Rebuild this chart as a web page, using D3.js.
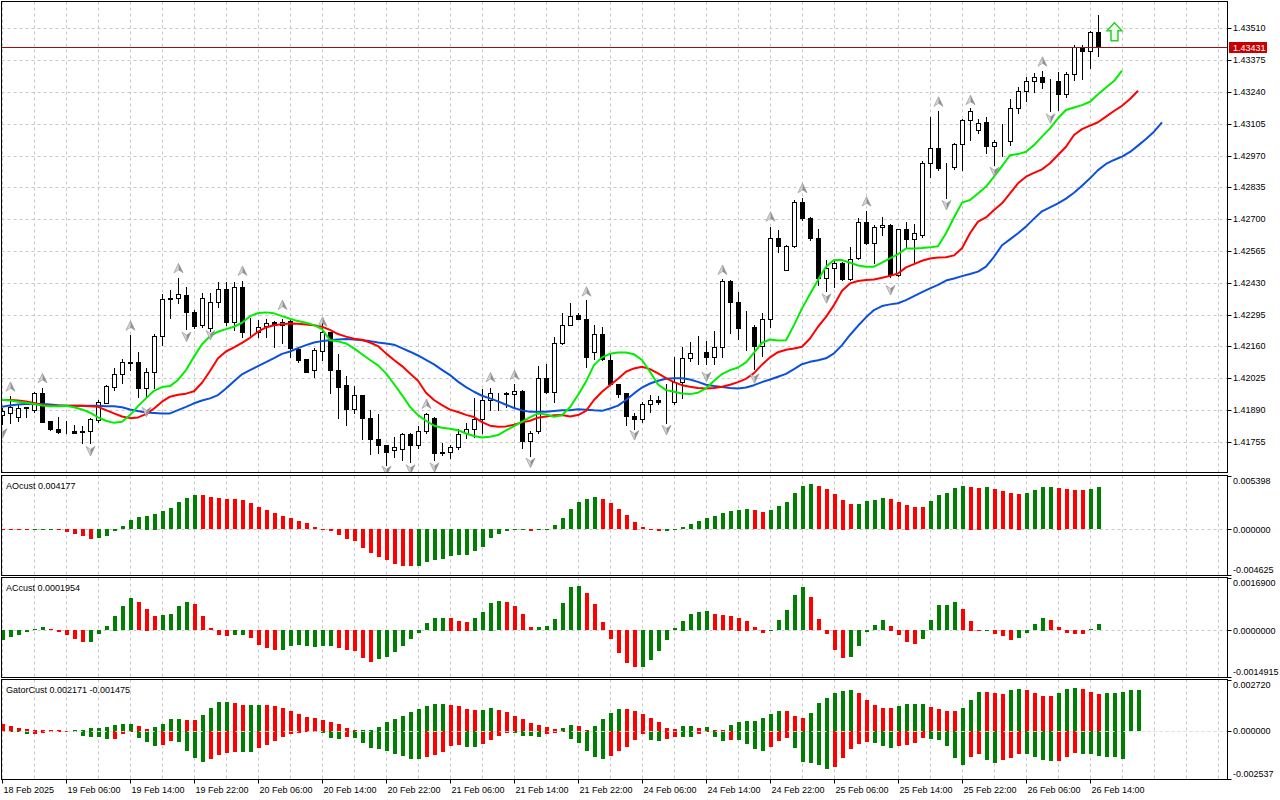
<!DOCTYPE html>
<html>
<head>
<meta charset="utf-8">
<script src="https://cdn.jsdelivr.net/npm/d3@7"></script>
<style>
    html, body { margin: 0; padding: 0; background: #fff; }
    svg text { font-family: "Liberation Sans", Arial, sans-serif; font-size: 9px; fill: #000; }
</style>
</head>
<body>
<svg id="chart" width="1280" height="800"></svg>
<script>
// Data (bar 0 = 18 Feb 22:00, H1 bars)
const timeTicks = [[0, "18 Feb 2025"], [8, "19 Feb 06:00"], [16, "19 Feb 14:00"], [24, "19 Feb 22:00"],
    [32, "20 Feb 06:00"], [40, "20 Feb 14:00"], [48, "20 Feb 22:00"], [56, "21 Feb 06:00"],
    [64, "21 Feb 14:00"], [72, "21 Feb 22:00"], [80, "24 Feb 06:00"], [88, "24 Feb 14:00"],
    [96, "24 Feb 22:00"], [104, "25 Feb 06:00"], [112, "25 Feb 14:00"], [120, "25 Feb 22:00"],
    [128, "26 Feb 06:00"], [136, "26 Feb 14:00"]];

const priceTicks = [1.43510, 1.43375, 1.43240, 1.43105, 1.42970, 1.42835, 1.42700,
    1.42565, 1.42430, 1.42295, 1.42160, 1.42025, 1.41890, 1.41755];

const open = [1.41868,1.41875,1.41861,1.41896,1.41889,1.41960,1.41843,1.41811,1.41798,1.41800,
1.41797,1.41802,1.41847,1.41920,1.41988,1.42041,1.42090,1.42092,1.41984,1.42052,
1.42205,1.42362,1.42364,1.42378,1.42304,1.42250,1.42236,1.42347,1.42403,1.42264,
1.42410,1.42220,1.42219,1.42246,1.42264,1.42250,1.42267,1.42147,1.42106,1.42059,
1.42141,1.42222,1.42059,1.41995,1.41892,1.41953,1.41854,1.41765,1.41741,1.41719,
1.41722,1.41787,1.41741,1.41802,1.41854,1.41710,1.41710,1.41731,1.41790,1.41811,
1.41850,1.41932,1.41960,1.41963,1.41956,1.41970,1.41759,1.41802,1.42024,1.41964,
1.42172,1.42250,1.42293,1.42278,1.42134,1.42212,1.42102,1.41998,1.41963,1.41864,
1.41850,1.41915,1.41932,1.41927,1.41922,1.42007,1.42109,1.42134,1.42137,1.42116,
1.42155,1.42437,1.42346,1.42240,1.42243,1.42162,1.42278,1.42621,1.42486,1.42587,
1.42774,1.42703,1.42621,1.42452,1.42491,1.42515,1.42444,1.42533,1.42686,1.42597,
1.42665,1.42675,1.42462,1.42656,1.42614,1.42632,1.42937,1.43000,1.42922,1.42920,
1.43019,1.43121,1.43078,1.43114,1.43010,1.43032,1.43033,1.43170,1.43245,1.43286,
1.43302,1.43286,1.43286,1.43231,1.43316,1.43429,1.43415,1.43493];

const high = [1.41896,1.41949,1.41915,1.41903,1.41967,1.41984,1.41845,1.41858,1.41844,1.41826,
1.41823,1.41854,1.41932,1.41995,1.42069,1.42106,1.42208,1.42137,1.42066,1.42211,
1.42381,1.42399,1.42451,1.42413,1.42314,1.42385,1.42385,1.42434,1.42434,1.42431,
1.42437,1.42279,1.42272,1.42274,1.42267,1.42278,1.42271,1.42151,1.42106,1.42151,
1.42257,1.42222,1.42126,1.42034,1.41991,1.41955,1.41889,1.41872,1.41741,1.41773,
1.41790,1.41790,1.41821,1.41875,1.41858,1.41751,1.41741,1.41811,1.41835,1.41939,
1.41977,1.41985,1.41963,1.41967,1.42000,1.41974,1.41800,1.42077,1.42083,1.42201,
1.42300,1.42342,1.42300,1.42356,1.42250,1.42243,1.42130,1.41998,1.41963,1.41878,
1.41925,1.41953,1.41949,1.42002,1.42116,1.42155,1.42179,1.42203,1.42184,1.42225,
1.42444,1.42440,1.42389,1.42309,1.42250,1.42300,1.42667,1.42653,1.42590,1.42783,
1.42788,1.42707,1.42656,1.42526,1.42529,1.42518,1.42583,1.42703,1.42735,1.42675,
1.42710,1.42678,1.42660,1.42689,1.42679,1.42947,1.43132,1.43160,1.42937,1.43022,
1.43125,1.43170,1.43125,1.43135,1.43036,1.43104,1.43208,1.43259,1.43302,1.43319,
1.43329,1.43293,1.43326,1.43326,1.43439,1.43439,1.43500,1.43566];

const low = [1.41830,1.41833,1.41844,1.41858,1.41882,1.41837,1.41804,1.41790,1.41793,1.41790,
1.41751,1.41748,1.41840,1.41918,1.41974,1.42006,1.42059,1.41946,1.41939,1.41981,
1.42165,1.42279,1.42342,1.42233,1.42239,1.42243,1.42225,1.42328,1.42250,1.42229,
1.42201,1.42198,1.42198,1.42201,1.42155,1.42172,1.42116,1.42094,1.42049,1.42028,
1.42102,1.41960,1.41854,1.41828,1.41878,1.41765,1.41701,1.41708,1.41656,1.41688,
1.41677,1.41670,1.41727,1.41790,1.41677,1.41698,1.41684,1.41722,1.41769,1.41776,
1.41793,1.41889,1.41889,1.41903,1.41903,1.41727,1.41694,1.41793,1.41963,1.41925,
1.42169,1.42250,1.42274,1.42073,1.42104,1.42102,1.41995,1.41946,1.41826,1.41811,
1.41840,1.41882,1.41917,1.41833,1.41917,1.41942,1.42099,1.42084,1.42084,1.42084,
1.42116,1.42215,1.42193,1.42144,1.42062,1.42120,1.42243,1.42559,1.42483,1.42583,
1.42696,1.42611,1.42420,1.42396,1.42413,1.42441,1.42441,1.42529,1.42594,1.42512,
1.42632,1.42455,1.42458,1.42576,1.42512,1.42625,1.42877,1.42908,1.42791,1.42911,
1.42908,1.43036,1.43067,1.42982,1.42930,1.42968,1.43014,1.43149,1.43203,1.43241,
1.43258,1.43160,1.43163,1.43220,1.43290,1.43295,1.43343,1.43392];

const close = [1.41886,1.41903,1.41896,1.41901,1.41960,1.41840,1.41807,1.41797,1.41798,1.41793,
1.41799,1.41850,1.41925,1.41991,1.42041,1.42092,1.42092,1.41981,1.42052,1.42205,
1.42361,1.42364,1.42380,1.42304,1.42248,1.42364,1.42347,1.42403,1.42264,1.42410,
1.42222,1.42221,1.42243,1.42257,1.42250,1.42264,1.42151,1.42102,1.42052,1.42144,
1.42222,1.42059,1.41988,1.41892,1.41953,1.41854,1.41765,1.41741,1.41712,1.41731,
1.41787,1.41743,1.41800,1.41872,1.41705,1.41705,1.41731,1.41787,1.41811,1.41850,
1.41932,1.41960,1.41961,1.41957,1.41970,1.41759,1.41794,1.42024,1.41964,1.42172,
1.42250,1.42288,1.42278,1.42116,1.42212,1.42104,1.41998,1.41956,1.41864,1.41850,
1.41915,1.41934,1.41922,1.41926,1.42007,1.42109,1.42133,1.42135,1.42116,1.42155,
1.42437,1.42349,1.42239,1.42241,1.42162,1.42278,1.42621,1.42585,1.42587,1.42774,
1.42703,1.42618,1.42452,1.42491,1.42515,1.42444,1.42529,1.42686,1.42597,1.42665,
1.42675,1.42462,1.42656,1.42614,1.42640,1.42939,1.43000,1.42918,1.42923,1.43019,
1.43121,1.43159,1.43109,1.43012,1.43029,1.43033,1.43170,1.43245,1.43286,1.43302,
1.43280,1.43285,1.43231,1.43316,1.43429,1.43415,1.43493,1.43431];

// Alligator lines (already shifted: lips +3, teeth +5, jaw +8 bars)
const lips = [1.41933,1.41930,1.41925,1.41920,1.41915,1.41909,1.41906,1.41906,1.41908,1.41901,
1.41892,1.41878,1.41858,1.41844,1.41835,1.41840,1.41868,1.41906,1.41939,1.41971,
1.41987,1.41991,1.42017,1.42059,1.42116,1.42169,1.42203,1.42222,1.42233,1.42243,
1.42260,1.42288,1.42301,1.42304,1.42300,1.42288,1.42277,1.42267,1.42260,1.42250,
1.42233,1.42186,1.42181,1.42172,1.42151,1.42126,1.42102,1.42079,1.42045,1.42000,
1.41953,1.41903,1.41868,1.41844,1.41823,1.41814,1.41810,1.41804,1.41790,1.41779,
1.41773,1.41776,1.41783,1.41803,1.41821,1.41840,1.41858,1.41875,1.41871,1.41861,
1.41867,1.41901,1.41953,1.42010,1.42080,1.42113,1.42128,1.42134,1.42134,1.42126,
1.42102,1.42052,1.41998,1.41974,1.41967,1.41960,1.41957,1.41963,1.41981,1.42014,
1.42042,1.42059,1.42070,1.42092,1.42133,1.42175,1.42189,1.42185,1.42186,1.42250,
1.42321,1.42382,1.42441,1.42498,1.42526,1.42526,1.42515,1.42503,1.42498,1.42498,
1.42515,1.42533,1.42551,1.42575,1.42575,1.42577,1.42580,1.42585,1.42640,1.42707,
1.42770,1.42781,1.42809,1.42838,1.42880,1.42925,1.42971,1.42976,1.42986,1.43014,
1.43050,1.43085,1.43128,1.43163,1.43174,1.43184,1.43198,1.43230,1.43259,1.43286,1.43330];

const teeth = [1.41932,1.41932,1.41930,1.41926,1.41919,1.41912,1.41908,1.41908,1.41908,1.41908,
1.41908,1.41906,1.41903,1.41889,1.41875,1.41862,1.41855,1.41858,1.41872,1.41896,
1.41925,1.41946,1.41954,1.41959,1.41969,1.42005,1.42055,1.42109,1.42138,1.42155,
1.42175,1.42196,1.42222,1.42240,1.42249,1.42254,1.42257,1.42256,1.42253,1.42249,
1.42243,1.42230,1.42212,1.42201,1.42192,1.42188,1.42176,1.42161,1.42130,1.42102,
1.42076,1.42045,1.42014,1.41963,1.41932,1.41910,1.41891,1.41881,1.41869,1.41860,
1.41838,1.41823,1.41818,1.41820,1.41827,1.41837,1.41844,1.41857,1.41862,1.41867,
1.41868,1.41862,1.41868,1.41886,1.41932,1.41967,1.41995,1.42022,1.42052,1.42066,
1.42073,1.42063,1.42045,1.42025,1.42008,1.41995,1.41988,1.41983,1.41981,1.41983,
1.41988,1.41997,1.42008,1.42022,1.42046,1.42082,1.42113,1.42135,1.42145,1.42151,
1.42158,1.42193,1.42243,1.42285,1.42335,1.42396,1.42427,1.42437,1.42441,1.42444,
1.42451,1.42459,1.42469,1.42495,1.42509,1.42523,1.42533,1.42537,1.42538,1.42546,
1.42576,1.42640,1.42689,1.42707,1.42739,1.42767,1.42809,1.42852,1.42880,1.42896,
1.42911,1.42937,1.42972,1.43007,1.43057,1.43082,1.43097,1.43111,1.43135,1.43159,
1.43181,1.43210,1.43245];

const jaw = [1.41903,1.41909,1.41913,1.41915,1.41915,1.41915,1.41913,1.41910,1.41908,1.41908,
1.41908,1.41908,1.41908,1.41906,1.41905,1.41901,1.41892,1.41885,1.41879,1.41877,
1.41875,1.41875,1.41889,1.41903,1.41918,1.41930,1.41939,1.41953,1.41981,1.42012,
1.42041,1.42059,1.42076,1.42093,1.42110,1.42128,1.42138,1.42152,1.42165,1.42176,
1.42182,1.42186,1.42189,1.42191,1.42189,1.42186,1.42182,1.42176,1.42172,1.42167,
1.42152,1.42137,1.42121,1.42102,1.42083,1.42060,1.42038,1.42010,1.41987,1.41967,
1.41950,1.41939,1.41926,1.41912,1.41898,1.41888,1.41882,1.41882,1.41882,1.41885,
1.41888,1.41889,1.41893,1.41891,1.41888,1.41886,1.41896,1.41908,1.41932,1.41960,
1.41985,1.42002,1.42014,1.42022,1.42024,1.42024,1.42019,1.42009,1.41997,1.41991,
1.41987,1.41983,1.41981,1.41985,1.41995,1.42008,1.42019,1.42031,1.42043,1.42063,
1.42084,1.42094,1.42101,1.42109,1.42130,1.42165,1.42208,1.42247,1.42283,1.42314,
1.42331,1.42338,1.42343,1.42356,1.42373,1.42390,1.42406,1.42421,1.42439,1.42448,
1.42458,1.42467,1.42477,1.42498,1.42540,1.42589,1.42614,1.42640,1.42668,1.42702,
1.42733,1.42750,1.42767,1.42787,1.42812,1.42842,1.42873,1.42908,1.42934,1.42951,
1.42965,1.42985,1.43012,1.43040,1.43071,1.43111];

// Fractal arrows: [bar, price where the arrow sits]
const fractalUp = [[1,1.41988],[5,1.42024],[16,1.42247],[22,1.42491],[30,1.42480],[35,1.42335],
    [40,1.42264],[53,1.41915],[61,1.42028],[64,1.42038],[73,1.42392],[90,1.42484],[96,1.42710],
    [100,1.42831],[108,1.42774],[117,1.43198],[121,1.43205],[130,1.43368]];
const fractalDown = [[0,1.41791],[11,1.41716],[18,1.41882],[23,1.42201],[26,1.42208],[48,1.41632],
    [51,1.41638],[54,1.41646],[66,1.41666],[79,1.41783],[83,1.41805],[88,1.42031],[94,1.42024],
    [103,1.42364],[111,1.42399],[118,1.42760],[124,1.42901],[131,1.43128]];
const signalArrow = { bar: 139, price: 1.43534 };

// AO histogram
const aoValues = [-33e-6,-66e-6,-99e-6,-100e-6,-33e-6,-17e-6,10e-6,-99e-6,-331e-6,-496e-6,
-728e-6,-959e-6,-860e-6,-662e-6,-232e-6,331e-6,926e-6,1224e-6,1356e-6,1555e-6,
1819e-6,2117e-6,2713e-6,3110e-6,3407e-6,3374e-6,3209e-6,3110e-6,3010e-6,3005e-6,
2878e-6,2613e-6,2216e-6,1886e-6,1588e-6,1323e-6,1092e-6,827e-6,595e-6,232e-6,
33e-6,-165e-6,-562e-6,-959e-6,-1224e-6,-1852e-6,-2415e-6,-2779e-6,-3110e-6,-3440e-6,
-3639e-6,-3672e-6,-3630e-6,-3308e-6,-3110e-6,-2977e-6,-2713e-6,-2613e-6,-2547e-6,-2216e-6,
-1819e-6,-893e-6,-463e-6,-232e-6,-66e-6,-17e-6,-232e-6,-33e-6,66e-6,430e-6,
1092e-6,2018e-6,2713e-6,3010e-6,3176e-6,2977e-6,2580e-6,1985e-6,1422e-6,761e-6,
198e-6,-33e-6,-232e-6,-198e-6,33e-6,198e-6,529e-6,827e-6,1092e-6,1323e-6,
1621e-6,1819e-6,1919e-6,2018e-6,1886e-6,1720e-6,1919e-6,2316e-6,2713e-6,3606e-6,
4300e-6,4466e-6,4300e-6,4003e-6,3506e-6,2944e-6,2514e-6,2520e-6,2812e-6,2911e-6,
3110e-6,3043e-6,2713e-6,2448e-6,2216e-6,2183e-6,2812e-6,3407e-6,3573e-6,4102e-6,
4300e-6,4234e-6,4135e-6,4201e-6,3970e-6,3804e-6,3606e-6,3540e-6,3573e-6,3903e-6,
4168e-6,4201e-6,4135e-6,4003e-6,3903e-6,3870e-6,4003e-6,4177e-6];
const aoColors = "rrrrgggrrr" + "rrgggggggg" + "gggggrrrrr" + "rrrrrrrrrr" + "rrrrrrrrrr" +
    "rrgggggggg" + "ggggggrggg" + "gggggrrrrr" + "rrrggggggg" + "ggggrrgggg" +
    "ggrrrrrggg" + "grrrrrgggg" + "grrgrrrrgg" + "ggrrrrgg";
const aoTicks = [0.005398, 0, -0.004625];
const aoTickLabels = ["0.005398", "0.000000", "-0.004625"];

// AC histogram
const acValues = [-327e-6,-232e-6,-169e-6,-74e-6,32e-6,106e-6,32e-6,-63e-6,-158e-6,-295e-6,
-390e-6,-369e-6,-137e-6,137e-6,464e-6,770e-6,1023e-6,897e-6,686e-6,454e-6,
485e-6,517e-6,770e-6,897e-6,833e-6,454e-6,74e-6,-169e-6,-179e-6,-169e-6,
-165e-6,-253e-6,-485e-6,-580e-6,-644e-6,-622e-6,-506e-6,-485e-6,-517e-6,-528e-6,
-517e-6,-515e-6,-559e-6,-622e-6,-654e-6,-886e-6,-1023e-6,-918e-6,-844e-6,-707e-6,
-506e-6,-295e-6,-106e-6,222e-6,401e-6,405e-6,400e-6,306e-6,274e-6,401e-6,
580e-6,876e-6,928e-6,897e-6,770e-6,517e-6,95e-6,106e-6,137e-6,359e-6,
865e-6,1361e-6,1403e-6,1171e-6,833e-6,264e-6,-295e-6,-739e-6,-1044e-6,-1182e-6,
-1171e-6,-939e-6,-654e-6,-327e-6,74e-6,306e-6,517e-6,580e-6,612e-6,517e-6,
485e-6,454e-6,401e-6,306e-6,106e-6,-106e-6,11e-6,327e-6,644e-6,1118e-6,
1372e-6,1055e-6,359e-6,-137e-6,-644e-6,-897e-6,-865e-6,-517e-6,-63e-6,169e-6,
327e-6,148e-6,-169e-6,-390e-6,-443e-6,-295e-6,327e-6,802e-6,805e-6,897e-6,
675e-6,306e-6,-11e-6,5e-6,-137e-6,-200e-6,-327e-6,-253e-6,-106e-6,200e-6,
401e-6,327e-6,106e-6,-106e-6,-127e-6,-137e-6,32e-6,195.4e-6];
const acColors = "ggggggrrrr" + "rggggggrrr" + "ggggrrrrrg" + "grrrrggggg" + "ggrrrrrggg" +
    "ggggggrrrg" + "gggrrrrggg" + "gggrrrrrrr" + "gggggggggr" + "rrrrrrgggg" +
    "grrrrrgggg" + "grrrrggggg" + "rrrgrrrggg" + "grrrrrgg";
const acTicks = [0.00169, 0, -0.0014915];
const acTickLabels = ["0.0016900", "0.0000000", "-0.0014915"];

// Gator oscillator (upper runs 5 bars ahead, lower 3 bars ahead)
const gatorUp = [350e-6,263e-6,175e-6,105e-6,70e-6,53e-6,44e-6,35e-6,18e-6,35e-6,
53e-6,140e-6,175e-6,193e-6,315e-6,368e-6,370e-6,263e-6,105e-6,210e-6,
368e-6,631e-6,635e-6,578e-6,575e-6,858e-6,1209e-6,1524e-6,1530e-6,1454e-6,
1367e-6,1370e-6,1372e-6,1349e-6,1332e-6,1209e-6,1051e-6,894e-6,736e-6,701e-6,
578e-6,473e-6,385e-6,158e-6,53e-6,35e-6,53e-6,210e-6,473e-6,631e-6,
788e-6,999e-6,1139e-6,1314e-6,1419e-6,1425e-6,1367e-6,1314e-6,1156e-6,1104e-6,
1110e-6,1209e-6,1104e-6,999e-6,788e-6,631e-6,420e-6,315e-6,210e-6,105e-6,
158e-6,315e-6,263e-6,53e-6,263e-6,631e-6,946e-6,1156e-6,1150e-6,1051e-6,
894e-6,683e-6,473e-6,158e-6,105e-6,263e-6,265e-6,158e-6,210e-6,53e-6,
50e-6,315e-6,473e-6,526e-6,530e-6,683e-6,894e-6,1069e-6,1051e-6,806e-6,
701e-6,964e-6,1472e-6,1734e-6,2015e-6,2120e-6,2155e-6,1997e-6,1629e-6,1367e-6,
1209e-6,1191e-6,1314e-6,1419e-6,1425e-6,1437e-6,1261e-6,1156e-6,1051e-6,1034e-6,
1209e-6,1647e-6,2050e-6,2045e-6,2032e-6,1945e-6,2155e-6,2208e-6,2172e-6,1997e-6,
1840e-6,1835e-6,1997e-6,2225e-6,2260e-6,2243e-6,2050e-6,1945e-6,1997e-6,2015e-6,
2067e-6,2155e-6,2171e-6];
const gatorUpColors = "rrrrrrrrrg" + "gggggggrrg" + "gggrrggggr" + "rggrrrrrrr" + "rrrrrggggg" +
    "ggggggrrrr" + "ggrrrrrrrr" + "ggrrggggrr" + "rrrrrggrgr" + "rgggggggrr" +
    "rggggggrrr" + "rrggggrrrr" + "gggrrrggrr" + "rrgggrrrgg" + "ggg";
const gatorDown = [-35e-6,-53e-6,-70e-6,-175e-6,-140e-6,-105e-6,-70e-6,-35e-6,-18e-6,-70e-6,
-245e-6,-298e-6,-300e-6,-420e-6,-415e-6,-140e-6,-35e-6,-350e-6,-578e-6,-771e-6,
-718e-6,-526e-6,-578e-6,-1034e-6,-1402e-6,-1612e-6,-1454e-6,-1244e-6,-1139e-6,-1086e-6,
-1104e-6,-1110e-6,-876e-6,-736e-6,-508e-6,-315e-6,-175e-6,-88e-6,-35e-6,-18e-6,
-123e-6,-385e-6,-403e-6,-298e-6,-350e-6,-613e-6,-876e-6,-929e-6,-1034e-6,-1226e-6,
-1314e-6,-1454e-6,-1460e-6,-1349e-6,-1244e-6,-1086e-6,-771e-6,-718e-6,-823e-6,-830e-6,
-666e-6,-456e-6,-245e-6,-88e-6,-95e-6,-245e-6,-250e-6,-298e-6,-140e-6,-88e-6,
-35e-6,-403e-6,-613e-6,-1034e-6,-1349e-6,-1454e-6,-1296e-6,-1034e-6,-823e-6,-456e-6,
-140e-6,-456e-6,-508e-6,-403e-6,-298e-6,-300e-6,-305e-6,-158e-6,-35e-6,-298e-6,
-508e-6,-473e-6,-480e-6,-701e-6,-964e-6,-1051e-6,-823e-6,-508e-6,-385e-6,-911e-6,
-1647e-6,-1682e-6,-1822e-6,-2032e-6,-1892e-6,-1437e-6,-929e-6,-666e-6,-596e-6,-631e-6,
-771e-6,-876e-6,-771e-6,-753e-6,-648e-6,-385e-6,-438e-6,-491e-6,-771e-6,-1437e-6,
-1822e-6,-1349e-6,-1226e-6,-1524e-6,-1699e-6,-1507e-6,-1402e-6,-1191e-6,-1195e-6,-1367e-6,
-1507e-6,-1577e-6,-1570e-6,-1349e-6,-1139e-6,-1209e-6,-1226e-6,-1296e-6,-1349e-6,-1352e-6,-1475e-6];
const gatorDownColors = "ggggrrrrrg" + "ggggrrrggg" + "rrggggrrrr" + "ggrrrrrrrr" + "gggrgggggg" +
    "gggrrrrrgg" + "rrrrggggrr" + "rgggggrrrr" + "rggrrggrrg" + "grggggrrrg" +
    "ggggrrrrrg" + "ggrrrrgggg" + "grrggrrrgg" + "ggrrrgggggg";
const gatorTicks = [0.00272, 0, -0.002537];
const gatorTickLabels = ["0.002720", "0.000000", "-0.002537"];

// Layout
const plotLeft = 1.5, plotRight = 1227.5, axisTextX = 1233;
const panels = {
    main: { top: 1.5, bottom: 472.5 },
    ao: { top: 475.5, bottom: 575.5 },
    ac: { top: 577.5, bottom: 677.5 },
    gator: { top: 679.5, bottom: 779.5 }
};
const gridColor = "#c8c8c8";
const bull = "#008000", bear = "#ff0000";

const svg = d3.select("#chart");
svg.append("rect").attr("width", 1280).attr("height", 800).attr("fill", "#fff");

// Scales
const x = d3.scaleLinear().domain([0, 1]).range([2, 10]);   // one bar = 8px
const yMain = d3.scaleLinear().domain([1.43510, 1.41755]).range([28.3, 441.7]);
const yAO = d3.scaleLinear().domain([aoTicks[0], aoTicks[2]]).range([475, 576]);
const yAC = d3.scaleLinear().domain([acTicks[0], acTicks[2]]).range([577, 677.5]);
const yGator = d3.scaleLinear().domain([gatorTicks[0], gatorTicks[2]]).range([679.5, 779]);

const gridBars = d3.range(0, 153, 4);
const px = v => Math.round(v) + 0.5;

// Vertical dashed grid in every panel
Object.values(panels).forEach(p => {
    svg.append("g").selectAll("line").data(gridBars).join("line")
        .attr("x1", d => px(x(d))).attr("x2", d => px(x(d)))
        .attr("y1", p.top).attr("y2", p.bottom)
        .attr("stroke", gridColor).attr("stroke-dasharray", "3,3");
});

// Main chart horizontal grid
svg.append("g").selectAll("line").data(priceTicks).join("line")
    .attr("x1", plotLeft).attr("x2", plotRight)
    .attr("y1", d => px(yMain(d))).attr("y2", d => px(yMain(d)))
    .attr("stroke", gridColor).attr("stroke-dasharray", "3,3");

// Clip for the main chart
svg.append("clipPath").attr("id", "mainClip").append("rect")
    .attr("x", 2).attr("y", 2).attr("width", 1225).attr("height", 470);
const main = svg.append("g").attr("clip-path", "url(#mainClip)");

// Candles
const candles = main.append("g");
d3.range(open.length).forEach(i => {
    const cx = Math.round(x(i));
    candles.append("line")
        .attr("x1", cx + 0.5).attr("x2", cx + 0.5)
        .attr("y1", Math.round(yMain(high[i]))).attr("y2", Math.round(yMain(low[i])) + 1)
        .attr("stroke", "#000");
    const top = Math.round(yMain(Math.max(open[i], close[i])));
    const bot = Math.round(yMain(Math.min(open[i], close[i])));
    candles.append("rect")
        .attr("x", cx - 1.5).attr("y", top + 0.5)
        .attr("width", 4).attr("height", Math.max(0, bot - top))
        .attr("fill", close[i] >= open[i] ? "#fff" : "#000")
        .attr("stroke", "#000");
});

// Alligator
const line = d3.line().x((d, i) => x(i)).y(d => yMain(d));
[[jaw, "#0a50dc"], [teeth, "#ff0000"], [lips, "#00ee00"]].forEach(([vals, col]) => {
    main.append("path").datum(vals).attr("d", line)
        .attr("fill", "none").attr("stroke", col).attr("stroke-width", 2)
        .attr("stroke-linejoin", "round");
});

// Current price line
const last = close[close.length - 1];
main.append("line")
    .attr("x1", plotLeft).attr("x2", plotRight)
    .attr("y1", px(yMain(last))).attr("y2", px(yMain(last)))
    .attr("stroke", "#a01010");

// Fractal arrows
function fractal(g, bar, price, up) {
    const a = g.append("g")
        .attr("transform", `translate(${x(bar) + 0.5},${yMain(price)}) scale(1,${up ? 1 : -1})`);
    a.append("path").attr("d", "M0,-5 L-4.5,4.5 L0,1.5 Z").attr("fill", "#d6d6d6");
    a.append("path").attr("d", "M0,-5 L0,1.5 L4.5,4.5 Z").attr("fill", "#8e8e8e");
    a.append("path").attr("d", "M0,-5 L-4.5,4.5 L0,1.5 L4.5,4.5 Z")
        .attr("fill", "none").attr("stroke", "#9a9a9a").attr("stroke-width", 0.7);
}
const arrows = main.append("g");
fractalUp.forEach(([b, p]) => fractal(arrows, b, p, true));
fractalDown.forEach(([b, p]) => fractal(arrows, b, p, false));

// Signal arrow (hollow, green)
main.append("path")
    .attr("transform", `translate(${x(signalArrow.bar) + 0.5},${yMain(signalArrow.price)})`)
    .attr("d", "M0,0 L7.5,8 L3.5,8 L3.5,18 L-3.5,18 L-3.5,8 L-7.5,8 Z")
    .attr("fill", "#eaffea").attr("stroke", "#33cc33").attr("stroke-width", 1.5)
    .attr("stroke-linejoin", "miter");

// Sub-window histograms
function histogram(vals, colors, yS) {
    const z = yS(0);
    svg.append("g").selectAll("rect").data(vals).join("rect")
        .attr("x", (d, i) => Math.round(x(i)) - 1)
        .attr("width", 4)
        .attr("y", d => Math.round(Math.min(yS(d), z)))
        .attr("height", d => Math.max(1, Math.round(Math.abs(yS(d) - z))))
        .attr("fill", (d, i) => colors[i] === "g" ? bull : bear);
}
// zero lines
[[yAO, panels.ao], [yAC, panels.ac], [yGator, panels.gator]].forEach(([yS]) => {
    svg.append("line").attr("x1", plotLeft).attr("x2", plotRight)
        .attr("y1", px(yS(0))).attr("y2", px(yS(0)))
        .attr("stroke", gridColor).attr("stroke-dasharray", "3,3");
});
histogram(aoValues, aoColors, yAO);
histogram(acValues, acColors, yAC);
histogram(gatorUp, gatorUpColors, yGator);
histogram(gatorDown, gatorDownColors, yGator);
svg.append("line").attr("x1", plotLeft).attr("x2", plotRight)
    .attr("y1", Math.round(yGator(0)) + 0.5).attr("y2", Math.round(yGator(0)) + 0.5)
    .attr("stroke", "#e0e0e0").attr("stroke-dasharray", "3,3");

// Panel frames
Object.values(panels).forEach(p => {
    svg.append("rect")
        .attr("x", plotLeft).attr("y", p.top)
        .attr("width", plotRight - plotLeft).attr("height", p.bottom - p.top)
        .attr("fill", "none").attr("stroke", "#000");
});

// Main price axis
const pAxis = svg.append("g");
priceTicks.forEach(t => {
    const yy = yMain(t);
    pAxis.append("line").attr("x1", plotRight).attr("x2", plotRight + 4)
        .attr("y1", px(yy)).attr("y2", px(yy)).attr("stroke", "#000");
    pAxis.append("text").attr("x", axisTextX).attr("y", yy).attr("dy", "0.35em")
        .text(t.toFixed(5));
});
// current price tag
const tagY = yMain(last);
pAxis.append("rect").attr("x", 1229).attr("y", Math.round(tagY) - 5)
    .attr("width", 38).attr("height", 11).attr("fill", "#c80000");
pAxis.append("text").attr("x", axisTextX).attr("y", tagY + 0.5).attr("dy", "0.35em")
    .style("fill", "#fff").text(last.toFixed(5));

// Sub-window axes and captions
[[yAO, panels.ao, aoTicks, aoTickLabels, "AOcust 0.004177"],
 [yAC, panels.ac, acTicks, acTickLabels, "ACcust 0.0001954"],
 [yGator, panels.gator, gatorTicks, gatorTickLabels, "GatorCust 0.002171 -0.001475"]]
    .forEach(([yS, p, ticks, labels, caption]) => {
        ticks.forEach((t, k) => {
            const yy = Math.min(Math.max(yS(t), p.top + 0.5), p.bottom - 0.5);
            svg.append("line").attr("x1", plotRight).attr("x2", plotRight + 4)
                .attr("y1", px(yy)).attr("y2", px(yy)).attr("stroke", "#000");
            const ty = Math.min(Math.max(yS(t), p.top + 5.5), p.bottom - 6);
            svg.append("text").attr("x", axisTextX).attr("y", ty).attr("dy", "0.35em")
                .text(labels[k]);
        });
        svg.append("text").attr("x", 6).attr("y", p.top + 13).text(caption);
    });

// Time axis
const tAxis = svg.append("g");
timeTicks.forEach(([b, label]) => {
    const xx = Math.round(x(b)) + 0.5;
    tAxis.append("line").attr("x1", xx).attr("x2", xx)
        .attr("y1", panels.gator.bottom).attr("y2", panels.gator.bottom + 4)
        .attr("stroke", "#000");
    tAxis.append("text").attr("x", xx + 1).attr("y", 792.5).text(label);
});
</script>
</body>
</html>
